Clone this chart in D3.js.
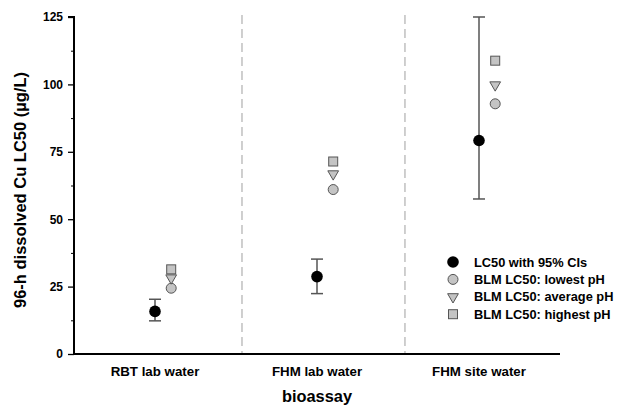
<!DOCTYPE html>
<html>
<head>
<meta charset="utf-8">
<script src="https://cdn.jsdelivr.net/npm/d3@7"></script>
<style>
  body { margin: 0; background: #fff; }
  text { font-family: "Liberation Sans", Arial, sans-serif; font-weight: bold; }
</style>
</head>
<body>
<div class="chart"></div>
<script>
// bioassay categories
const categories = ["RBT lab water", "FHM lab water", "FHM site water"];
// measured LC50 and 95% CIs
const lc50 = [15.8, 28.7, 79.2];
const ciLow = [12.3, 22.4, 57.5];
const ciHigh = [20.3, 35.2, 125];
// BLM predicted LC50s
const blmLowest = [24.4, 61, 92.8];
const blmAverage = [28.2, 66.8, 99.8];
const blmHighest = [31.4, 71.4, 108.8];
const yTicks = [0, 25, 50, 75, 100, 125];
const legendLabels = ["LC50 with 95% CIs", "BLM LC50: lowest pH", "BLM LC50: average pH", "BLM LC50: highest pH"];

const width = 620, height = 406;
const margin = { top: 17, right: 60, bottom: 52, left: 74 };

const svg = d3.select(".chart")
  .append("svg")
  .attr("width", width)
  .attr("height", height);

const x = d3.scaleLinear()
  .domain([0.5, 3.5])
  .range([margin.left, width - margin.right]);

const y = d3.scaleLinear()
  .domain([0, 125])
  .range([height - margin.bottom, margin.top]);

const gray = "#c4c4c4", edge = "#555";

// dashed dividers between bioassays
svg.selectAll(".divider")
  .data([1.537, 2.543])
  .enter()
  .append("line")
  .attr("x1", d => x(d)).attr("x2", d => x(d))
  .attr("y1", y(125) - 2).attr("y2", y(0))
  .attr("stroke", "#b0b0b0")
  .attr("stroke-width", 1.2)
  .attr("stroke-dasharray", "9,5");

// y axis with minor ticks
const yAxis = svg.append("g")
  .attr("transform", `translate(${margin.left},0)`)
  .call(d3.axisLeft(y).tickValues(yTicks).tickSize(6).tickPadding(5));
yAxis.select(".domain").attr("stroke-width", 2).attr("d", `M-6,${y(125)}H0V${y(0)}`);
yAxis.selectAll(".tick line").attr("stroke-width", 1.3);
yAxis.selectAll(".tick text").attr("font-size", 12).attr("font-weight", "bold")
  .attr("font-family", "Liberation Sans, Arial, sans-serif").attr("fill", "#000");
svg.append("g")
  .attr("transform", `translate(${margin.left},0)`)
  .call(d3.axisLeft(y).tickValues(yTicks.slice(0, -1).map(d => d + 12.5)).tickSize(3).tickFormat(""))
  .call(g => g.select(".domain").remove());

// x axis line
svg.append("line")
  .attr("x1", margin.left).attr("x2", width - margin.right)
  .attr("y1", y(0)).attr("y2", y(0))
  .attr("stroke", "#000").attr("stroke-width", 2);

svg.selectAll(".cat")
  .data(categories)
  .enter()
  .append("text")
  .attr("x", (d, i) => x(i + 1))
  .attr("y", 376)
  .attr("text-anchor", "middle")
  .attr("font-size", 13.3)
  .text(d => d);

// axis titles
svg.append("text")
  .attr("x", x(2)).attr("y", 402)
  .attr("text-anchor", "middle")
  .attr("font-size", 16.4)
  .text("bioassay");

svg.append("text")
  .attr("transform", `translate(26,190) rotate(-90)`)
  .attr("text-anchor", "middle")
  .attr("font-size", 16.5)
  .text("96-h dissolved Cu LC50 (µg/L)");

// error bars
const eb = svg.selectAll(".eb").data(lc50).enter().append("g");
eb.append("line")
  .attr("x1", (d, i) => x(i + 1)).attr("x2", (d, i) => x(i + 1))
  .attr("y1", (d, i) => y(ciLow[i])).attr("y2", (d, i) => y(ciHigh[i]))
  .attr("stroke", edge).attr("stroke-width", 1.5);
[ciLow, ciHigh].forEach(arr => {
  eb.append("line")
    .attr("x1", (d, i) => x(i + 1) - 6).attr("x2", (d, i) => x(i + 1) + 6)
    .attr("y1", (d, i) => y(arr[i])).attr("y2", (d, i) => y(arr[i]))
    .attr("stroke", edge).attr("stroke-width", 1.5);
});

const off = 0.1;
const tri = d3.symbol().type(d3.symbolTriangle).size(50);

function drawMarker(g, kind) {
  if (kind === 0) g.append("circle").attr("r", 5.8).attr("fill", "#000");
  if (kind === 1) g.append("circle").attr("r", 5).attr("fill", gray).attr("stroke", edge).attr("stroke-width", 1);
  if (kind === 2) g.append("path").attr("d", tri()).attr("transform", "rotate(180)")
    .attr("fill", gray).attr("stroke", edge).attr("stroke-width", 1);
  if (kind === 3) g.append("rect").attr("x", -4.5).attr("y", -4.5).attr("width", 9).attr("height", 9)
    .attr("fill", gray).attr("stroke", edge).attr("stroke-width", 1);
}

const seriesList = [lc50, blmLowest, blmAverage, blmHighest];
seriesList.forEach((vals, k) => {
  svg.selectAll(".s" + k)
    .data(vals)
    .enter()
    .append("g")
    .attr("transform", (d, i) => `translate(${x(i + 1 + (k ? off : 0))},${y(d)})`)
    .each(function () { drawMarker(d3.select(this), k); });
});

// legend
const leg = svg.selectAll(".leg")
  .data(legendLabels)
  .enter()
  .append("g")
  .attr("transform", (d, i) => `translate(453,${262 + i * 17.4})`);
leg.each(function (d, i) { drawMarker(d3.select(this), i); });
leg.append("text")
  .attr("x", 21).attr("y", 4.5)
  .attr("font-size", 12.8)
  .text(d => d);
</script>
</body>
</html>
